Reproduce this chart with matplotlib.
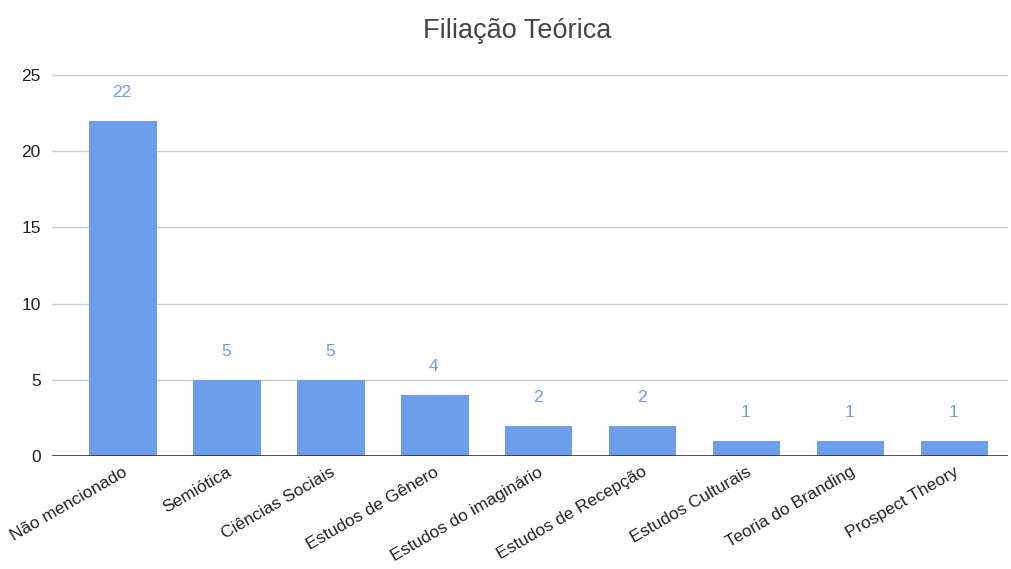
import matplotlib.pyplot as plt

plt.rcParams['font.family'] = ['Liberation Sans', 'DejaVu Sans']

# frameworks and number of papers citing each
categories = ['Não mencionado', 'Semiótica', 'Ciências Sociais', 'Estudos de Gênero',
              'Estudos do imaginário', 'Estudos de Recepção', 'Estudos Culturais',
              'Teoria do Branding', 'Prospect Theory']
counts = [22, 5, 5, 4, 2, 2, 1, 1, 1]
yticks = [0, 5, 10, 15, 20, 25]

bar_color = '#6d9eeb'

fig = plt.figure(figsize=(10.11, 5.69), dpi=100)
ax = fig.add_axes([0.0514, 0.1986, 0.9456, 0.6694])

x = range(len(categories))
ax.bar([xi + 0.01 for xi in x], counts, width=0.645, color=bar_color, zorder=2)

for xi, v in zip(x, counts):
    ax.annotate(str(v), (xi, v), xytext=(0, 15), textcoords='offset points',
                ha='center', va='bottom', color=bar_color, fontsize=12.5)

ax.set_ylim(0, 25)
ax.set_xlim(-0.673, 8.52)
ax.set_yticks(yticks)
ax.yaxis.grid(True, color='#cccccc', linewidth=1, zorder=0)
ax.axhline(0, color='#333333', linewidth=1.2, zorder=3)

for side in ['top', 'right', 'left', 'bottom']:
    ax.spines[side].set_visible(False)

ax.set_xticks(list(x))
ax.set_xticklabels(categories, rotation=30, ha='right', rotation_mode='anchor',
                   fontsize=12.5, color='#222222')
ax.tick_params(axis='x', length=0, pad=6)
ax.tick_params(axis='y', length=0, pad=8, labelsize=12.5, labelcolor='#222222')

fig.text(0.512, 0.945, 'Filiação Teórica', ha='center', va='center',
         fontsize=19.5, color='#444444')

fig.savefig('out.png', dpi=100)
